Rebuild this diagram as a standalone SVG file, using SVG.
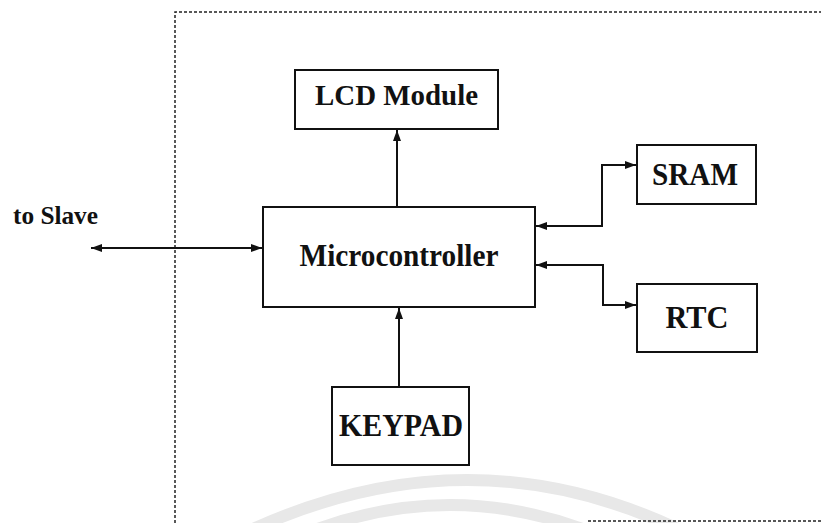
<svg xmlns="http://www.w3.org/2000/svg" width="821" height="523" viewBox="0 0 821 523">
<defs>
<style>
.box{fill:#fff;stroke:#111;stroke-width:2}
.lbl{font-family:"Liberation Serif","Times New Roman",serif;font-weight:bold;fill:#111;text-anchor:middle}
.wire{fill:none;stroke:#111;stroke-width:2}
.border{fill:none;stroke:#222;stroke-width:1.5;stroke-dasharray:3 2}
.wm{fill:none;stroke:#e8e8e8;stroke-width:12}
</style>
<marker id="ah" viewBox="0 0 11 8" refX="11" refY="4" markerWidth="11" markerHeight="8" markerUnits="userSpaceOnUse" orient="auto-start-reverse">
<path d="M0,0 L11,4 L0,8 z" fill="#111"/>
</marker>
</defs>
<rect width="821" height="523" fill="#fff"/>
<g id="watermark">
<path class="wm" d="M230,540 Q470,420 700,540"/>
<path class="wm" d="M290,540 Q450,470 610,540"/>
</g>
<g id="border">
<path class="border" d="M175,523 V12 H821"/>
<path class="border" d="M588,521 H821"/>
</g>
<g id="connectors">
<path class="wire" d="M397,207 V130" marker-end="url(#ah)"/>
<path class="wire" d="M399,387 V308" marker-end="url(#ah)"/>
<path class="wire" d="M91,248 H262" marker-start="url(#ah)" marker-end="url(#ah)"/>
<path class="wire" d="M536,226 H602 V165 H636" marker-start="url(#ah)" marker-end="url(#ah)"/>
<path class="wire" d="M536,265 H603 V305 H636" marker-start="url(#ah)" marker-end="url(#ah)"/>
</g>
<g id="lcd">
<rect class="box" x="295" y="70" width="203" height="59"/>
<text class="lbl" x="396.5" y="105" font-size="29" textLength="163" lengthAdjust="spacingAndGlyphs">LCD Module</text>
</g>
<g id="micro">
<rect class="box" x="263" y="207" width="272" height="100"/>
<text class="lbl" x="399" y="266" font-size="31" textLength="199" lengthAdjust="spacingAndGlyphs">Microcontroller</text>
</g>
<g id="sram">
<rect class="box" x="637" y="145" width="119" height="59"/>
<text class="lbl" x="695" y="185" font-size="31" textLength="86" lengthAdjust="spacingAndGlyphs">SRAM</text>
</g>
<g id="rtc">
<rect class="box" x="637" y="284" width="120" height="68"/>
<text class="lbl" x="697" y="328" font-size="31" textLength="63" lengthAdjust="spacingAndGlyphs">RTC</text>
</g>
<g id="keypad">
<rect class="box" x="332" y="387" width="137" height="78"/>
<text class="lbl" x="401" y="436" font-size="31" textLength="124" lengthAdjust="spacingAndGlyphs">KEYPAD</text>
</g>
<g id="slave">
<text class="lbl" x="55.5" y="224" font-size="26" textLength="85" lengthAdjust="spacingAndGlyphs">to Slave</text>
</g>
</svg>
